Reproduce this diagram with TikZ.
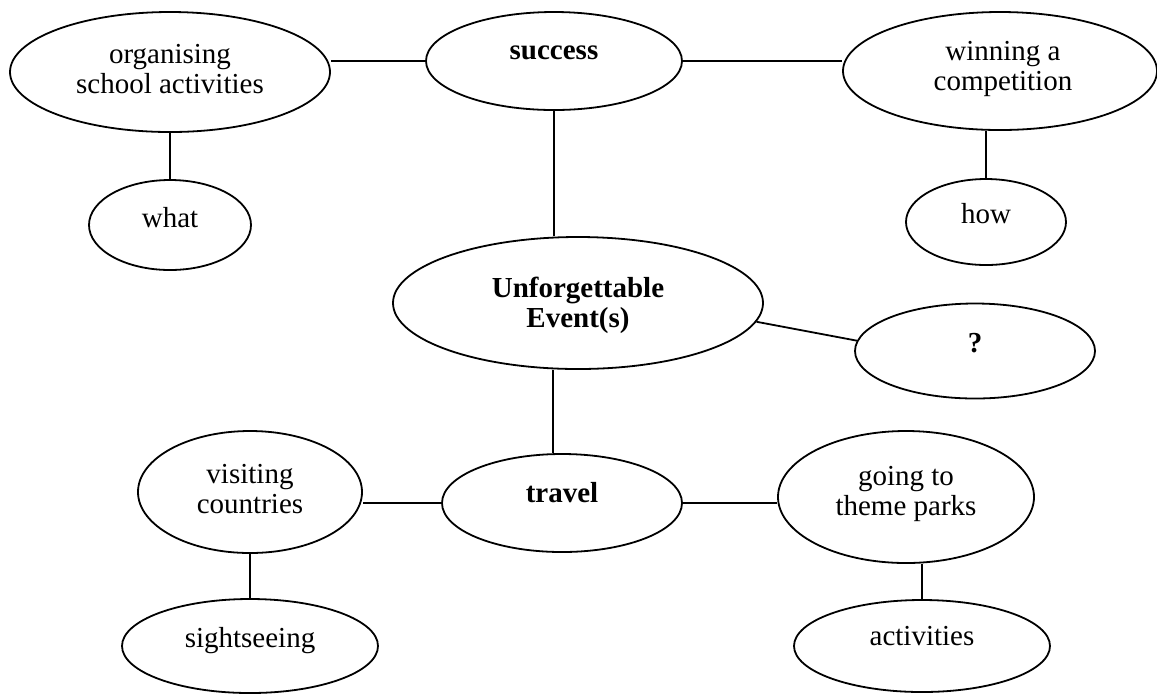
\documentclass[tikz,border=0pt]{standalone}
\usepackage{fontspec}
\setmainfont{Liberation Serif}
\usetikzlibrary{shapes.geometric}

\tikzset{
  bub/.style 2 args={ellipse, draw, line width=0.9pt, inner sep=0pt, minimum width=#1pt, minimum height=#2pt},
  lbl/.style={align=center, anchor=base, inner sep=0pt, font=\fontsize{14.5pt}{15pt}\selectfont},
  link/.style={line width=0.9pt}
}

\begin{document}
\begin{tikzpicture}[x=0.5pt,y=-0.5pt]
	\useasboundingbox (0,0) rectangle (1157,693);
	% top row
	\node[bub={160}{60}] (org) at (170,72) {};
	\node[lbl] (org-t) at (170,93) {organising\\school activities};
	\node[bub={128}{49}] (suc) at (554,61) {};
	\node[lbl] (suc-t) at (554,59) {\bfseries success};
	\node[bub={157}{59}] (win) at (1000,71) {};
	\node[lbl] (win-t) at (1003,90) {winning a\\competition};
	\node[bub={81}{45}] (what) at (170,225) {};
	\node[lbl] (what-t) at (170,227) {what};
	\node[bub={80}{43}] (how) at (986,222) {};
	\node[lbl] (how-t) at (986,223) {how};
	% middle
	\node[bub={185}{66}] (unf) at (578,303) {};
	\node[lbl] (unf-t) at (578,327) {\bfseries Unforgettable\\\bfseries Event(s)};
	\node[bub={120}{47.5}] (q) at (975,351) {};
	\node[lbl] (q-t) at (975,352) {\bfseries ?};
	% bottom row
	\node[bub={120}{49}] (trav) at (562,503) {};
	\node[lbl] (trav-t) at (562,502) {\bfseries travel};
	\node[bub={112}{61}] (vis) at (250,492) {};
	\node[lbl] (vis-t) at (250,513) {visiting\\countries};
	\node[bub={128}{66}] (go) at (906,497) {};
	\node[lbl] (go-t) at (906,515) {going to\\theme parks};
	\node[bub={128}{47}] (sig) at (250,646) {};
	\node[lbl] (sig-t) at (250,647) {sightseeing};
	\node[bub={128}{46}] (act) at (922,646) {};
	\node[lbl] (act-t) at (922,645) {activities};

	\draw[link] (suc.west) -- (suc.west -| org.east);
	\draw[link] (suc.east) -- (suc.east -| win.west);
	\draw[link] (org.south) -- (what.north);
	\draw[link] (how.north) -- (how.north |- win.south);
	\draw[link] (suc.south) -- (suc.south |- unf.north);
	\draw[link] (unf.-6) -- (q.175);
	\draw[link] (trav.100) -- (trav.100 |- unf.south);
	\draw[link] (trav.west) -- (trav.west -| vis.east);
	\draw[link] (trav.east) -- (trav.east -| go.west);
	\draw[link] (vis.south) -- (sig.north);
	\draw[link] (act.north) -- (act.north |- go.south);
\end{tikzpicture}
\end{document}
